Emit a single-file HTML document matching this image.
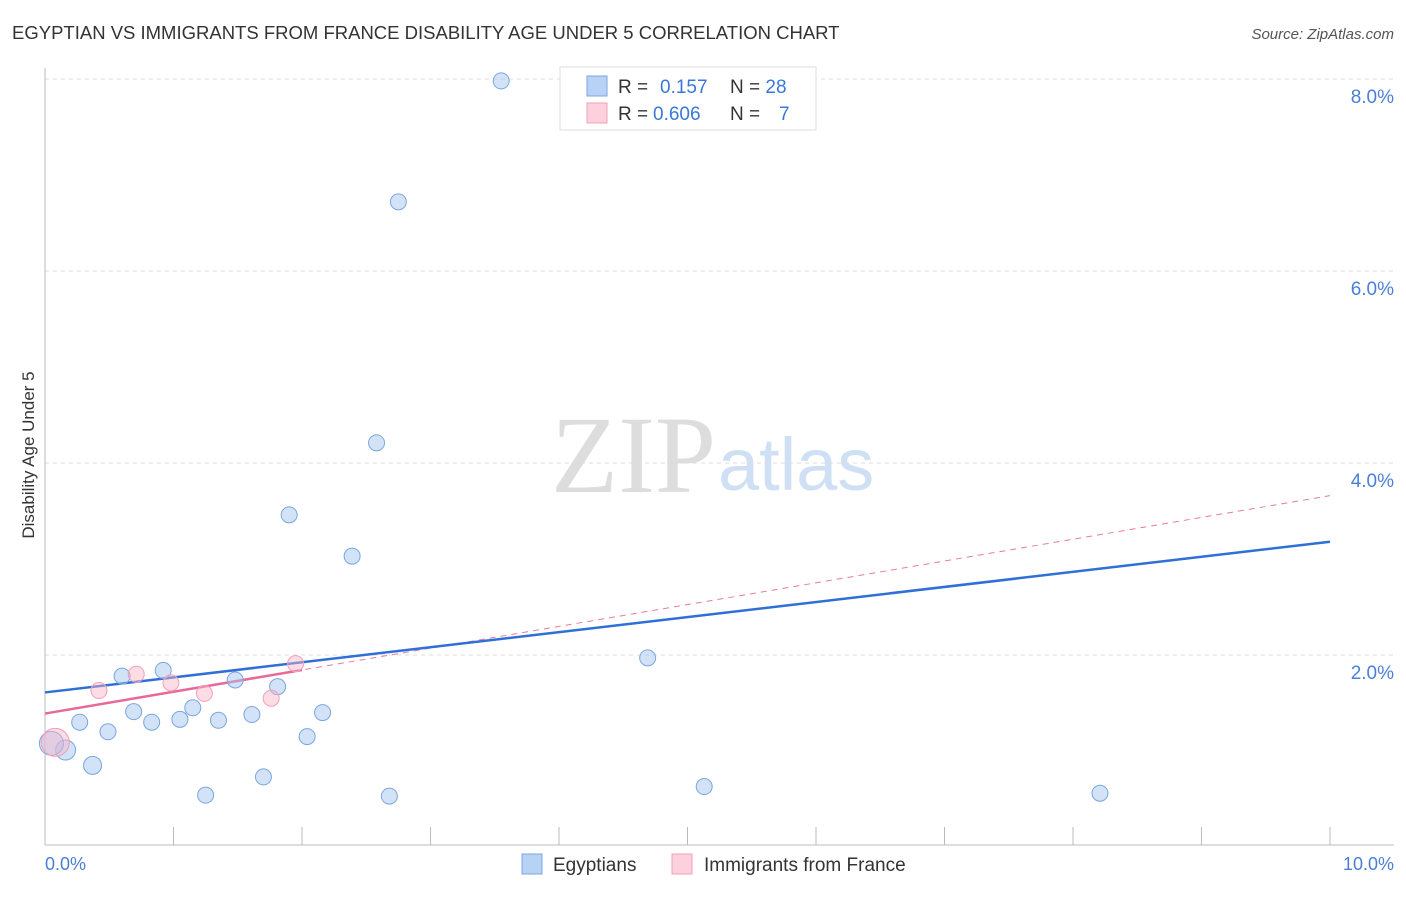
<!DOCTYPE html>
<html><head><meta charset="utf-8"><style>
body{margin:0;background:#fff;font-family:"Liberation Sans",sans-serif}
</style></head><body>
<svg width="1406" height="892" xmlns="http://www.w3.org/2000/svg" style="font-family:'Liberation Sans',sans-serif">
<text x="12" y="39" font-size="18.5" fill="#333">EGYPTIAN VS IMMIGRANTS FROM FRANCE DISABILITY AGE UNDER 5 CORRELATION CHART</text>
<text x="1394" y="39" font-size="15" fill="#555" text-anchor="end" font-style="italic">Source: ZipAtlas.com</text>
<text x="716" y="492" font-size="110" fill="#ddd" text-anchor="end" font-family="Liberation Serif">ZIP</text>
<text x="718" y="490" font-size="74" fill="#cfe0f5">atlas</text>
<g id="grid"></g>
<g id="axes"></g>
<g id="lines"></g>
<g id="pts"></g>
<text transform="translate(34,455) rotate(-90)" font-size="17" fill="#333" text-anchor="middle">Disability Age Under 5</text>
<text x="45" y="870" font-size="18" fill="#4a7fd4">0.0%</text>
<text x="1394" y="870" font-size="18" fill="#4a7fd4" text-anchor="end">10.0%</text>
<g>
<rect x="560" y="67" width="256" height="63" fill="#fff" stroke="#ddd"/>
<rect x="587" y="76" width="20" height="20" fill="#b8d2f5" stroke="#7aa6e0"/>
<rect x="587" y="103" width="20" height="20" fill="#fcd0dc" stroke="#f0a0b8"/>
<text x="618" y="93" font-size="19" fill="#333">R = <tspan fill="#3a78d8" x="660">0.157</tspan><tspan fill="#333" x="730">N = </tspan><tspan fill="#3a78d8">28</tspan></text>
<text x="618" y="120" font-size="19" fill="#333">R = <tspan fill="#3a78d8" x="653">0.606</tspan><tspan fill="#333" x="730">N = </tspan><tspan fill="#3a78d8" x="779">7</tspan></text>
</g>
<g>
<rect x="522" y="854" width="20" height="20" fill="#b8d2f5" stroke="#7aa6e0"/>
<text x="553" y="871" font-size="19" fill="#333">Egyptians</text>
<rect x="672" y="854" width="20" height="20" fill="#fcd0dc" stroke="#f0a0b8"/>
<text x="704" y="871" font-size="19" fill="#333">Immigrants from France</text>
</g>
</svg>
<script>
const yTicks=[2,4,6,8];
const yTickLabels=["2.0%","4.0%","6.0%","8.0%"];
const blueX=[3.55,2.75,2.58,1.90,2.39,4.69,0.60,0.92,1.48,1.81,0.27,0.49,0.69,0.83,1.05,1.15,1.35,1.61,2.16,2.04,0.37,0.16,0.05,1.70,1.25,2.68,5.13,8.21];
const blueY=[7.98,6.72,4.21,3.46,3.03,1.97,1.78,1.84,1.74,1.67,1.30,1.20,1.41,1.30,1.33,1.45,1.32,1.38,1.40,1.15,0.85,1.01,1.08,0.73,0.54,0.53,0.63,0.56];
const blueR=[8,8,8,8,8,8,8,8,8,8,8,8,8,8,8,8,8,8,8,8,9,10,12,8,8,8,8,8];
const pinkX=[0.08,0.42,0.71,0.98,1.24,1.76,1.95];
const pinkY=[1.09,1.63,1.80,1.71,1.60,1.55,1.91];
const pinkR=[14,8,8,8,8,8,8];
const blueTrend=[1.61,3.18];
const pinkTrend=[1.39,3.66];
const pinkSolidEnd=2.0;
const NS="http://www.w3.org/2000/svg";
const sx=v=>45+v*128.5, sy=v=>847-v*96;
function mk(tag,attrs,parent){const e=document.createElementNS(NS,tag);for(const k in attrs)e.setAttribute(k,attrs[k]);document.getElementById(parent).appendChild(e);return e;}
yTicks.forEach((t,i)=>{
 const l=mk('line',{x1:45,x2:1394,y1:sy(t),y2:sy(t),stroke:'#ddd','stroke-dasharray':'4,4'},'grid');
 
 
 const tx=mk('text',{x:1394,y:sy(t)+24,'font-size':19,fill:'#4a7fd4','text-anchor':'end'},'grid');
 tx.textContent=yTickLabels[i];
 
 
});
const ax=mk('line',{x1:45,x2:1394,y1:845,y2:845,stroke:'#bbb'},'axes');


const ay=mk('line',{x1:45,x2:45,y1:68,y2:845,stroke:'#bbb'},'axes');


for(let i=0;i<=10;i++){
 const t=mk('line',{x1:sx(i),x2:sx(i),y1:827,y2:845,stroke:'#bbb'},'axes');
 
 
}
const pd=mk('line',{x1:sx(0),y1:sy(pinkTrend[0]),x2:sx(10),y2:sy(pinkTrend[1]),stroke:'#e87aa0','stroke-width':1,'stroke-dasharray':'6,5'},'lines');


const ps=mk('line',{x1:sx(0),y1:sy(pinkTrend[0]),x2:sx(pinkSolidEnd),y2:sy(pinkTrend[0]+(pinkTrend[1]-pinkTrend[0])*pinkSolidEnd/10),stroke:'#e8689a','stroke-width':2.5},'lines');


const bl=mk('line',{x1:sx(0),y1:sy(blueTrend[0]),x2:sx(10),y2:sy(blueTrend[1]),stroke:'#2f6fd6','stroke-width':2.5},'lines');


blueX.forEach((x,i)=>{
 const c=mk('circle',{cx:sx(x),cy:sy(blueY[i]),r:blueR[i],fill:'rgba(165,198,240,0.5)',stroke:'#7aa6e0','stroke-width':1},'pts');
 
 
});
pinkX.forEach((x,i)=>{
 const c=mk('circle',{cx:sx(x),cy:sy(pinkY[i]),r:pinkR[i],fill:'rgba(248,180,200,0.45)',stroke:'#f0a0b8','stroke-width':1},'pts');
 
 
});
</script>
</body></html>
